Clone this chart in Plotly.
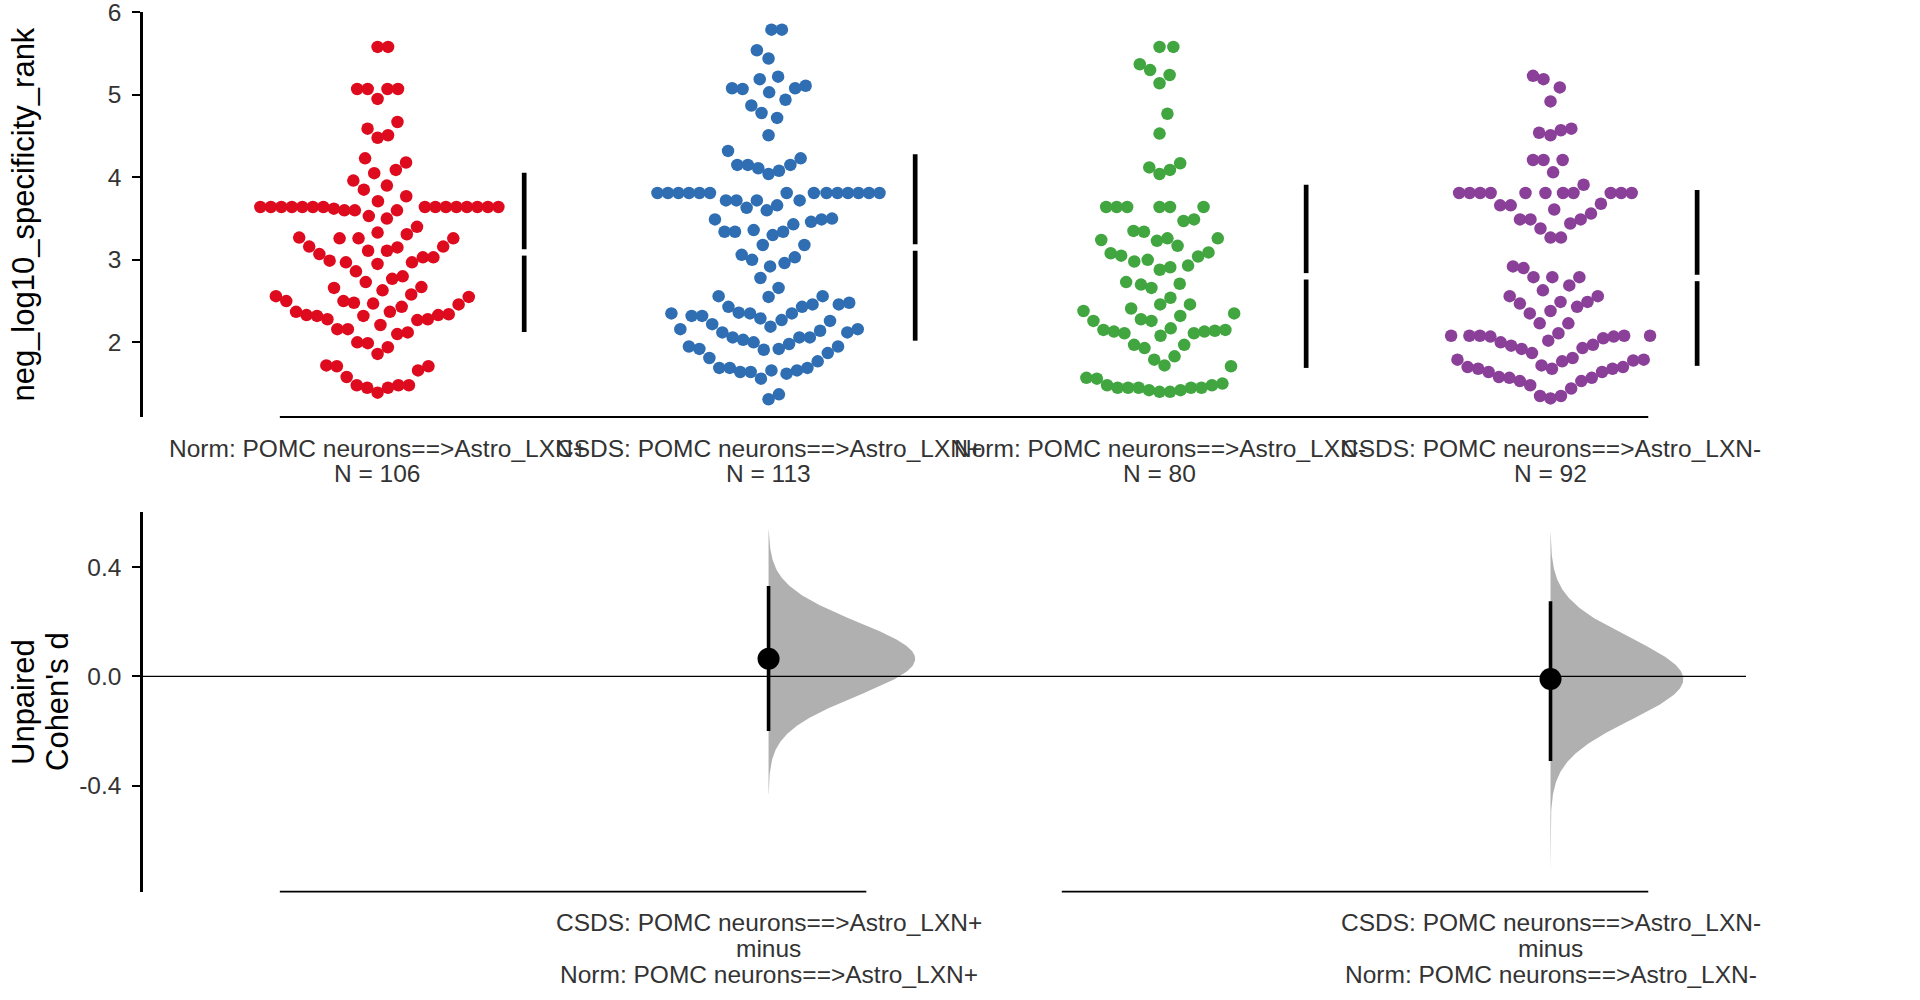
import numpy as np
import plotly.graph_objects as go

# The page's default 8 px body margin is removed by a post script,
# so the figure fills the 1920x1000 window exactly.
W, H = 1920, 1000


def fx(px):  # screen x -> paper
    return px / W


def fy(py):  # screen y -> paper
    return 1 - py / H


# ---------------- data ----------------
group_names = [
    "Norm: POMC neurons==>Astro_LXN+",
    "CSDS: POMC neurons==>Astro_LXN+",
    "Norm: POMC neurons==>Astro_LXN-",
    "CSDS: POMC neurons==>Astro_LXN-",
]
group_n_labels = ["N = 106", "N = 113", "N = 80", "N = 92"]
group_colors = ["#de0a1e", "#2f6eb2", "#41a540", "#8a3f99"]

norm_lxn_pos = [
    5.58, 5.58, 5.07, 5.07, 5.07, 5.07, 4.95, 4.67, 4.59, 4.51, 4.48, 4.23, 4.18, 4.09, 4.05,
    3.96, 3.90, 3.85, 3.77, 3.71,
    3.64, 3.64, 3.64, 3.64, 3.64, 3.64, 3.64, 3.64, 3.64, 3.64, 3.64, 3.64, 3.64, 3.64, 3.64,
    3.62, 3.60, 3.60, 3.60, 3.53, 3.50, 3.40, 3.33, 3.31, 3.27, 3.26, 3.26, 3.26,
    3.16, 3.16, 3.15, 3.11, 3.11, 3.07, 3.03, 3.03, 2.99, 2.97, 2.97, 2.95, 2.86,
    2.80, 2.77, 2.73, 2.67, 2.66, 2.63, 2.58, 2.56, 2.55, 2.50, 2.50, 2.48, 2.47, 2.46, 2.43,
    2.37, 2.37, 2.34, 2.33, 2.33, 2.32, 2.32, 2.28, 2.28, 2.27, 2.21, 2.16, 2.16, 2.12, 2.10,
    2.00, 1.99, 1.94, 1.86, 1.72, 1.71, 1.71, 1.66, 1.58, 1.48, 1.48, 1.48, 1.45, 1.45, 1.39,
]
csds_lxn_pos = [
    5.79, 5.79, 5.54, 5.44, 5.22, 5.19, 5.11, 5.08, 5.08, 5.07, 5.03, 4.94, 4.87, 4.78, 4.72,
    4.51, 4.32, 4.23, 4.15, 4.15, 4.15, 4.11, 4.08, 4.04,
    3.81, 3.81, 3.81, 3.81, 3.81, 3.81, 3.81, 3.81, 3.81, 3.81, 3.81, 3.81, 3.81, 3.81,
    3.72, 3.72, 3.72, 3.72, 3.66, 3.63, 3.60, 3.50, 3.49, 3.49, 3.46, 3.43, 3.36,
    3.34, 3.34, 3.34, 3.30, 3.18, 3.18, 3.06, 3.03, 3.00, 2.96, 2.92, 2.78, 2.66,
    2.56, 2.56, 2.55, 2.48, 2.46, 2.46, 2.43, 2.43, 2.36, 2.35, 2.35, 2.35, 2.32, 2.32,
    2.29, 2.27, 2.26, 2.22, 2.19, 2.16, 2.16, 2.14, 2.12, 2.12, 2.06, 2.06, 2.06,
    2.03, 2.00, 1.98, 1.95, 1.95, 1.92, 1.92, 1.91, 1.87, 1.81, 1.77,
    1.69, 1.69, 1.69, 1.66, 1.66, 1.64, 1.64, 1.62, 1.56, 1.37, 1.31,
]
norm_lxn_neg = [
    5.58, 5.58, 5.37, 5.30, 5.24, 5.14, 4.77, 4.53, 4.17, 4.12, 4.09, 4.04,
    3.64, 3.64, 3.64, 3.64, 3.64, 3.64, 3.49, 3.47, 3.35, 3.34, 3.26, 3.26, 3.24, 3.23, 3.17,
    3.09, 3.08, 3.05, 3.04, 3.00, 2.98, 2.93, 2.91, 2.88, 2.73, 2.71, 2.70, 2.66, 2.54,
    2.46, 2.46, 2.41, 2.38, 2.35, 2.32, 2.28, 2.26, 2.26,
    2.17, 2.15, 2.15, 2.14, 2.13, 2.13, 2.11, 2.11, 2.08, 1.97, 1.97, 1.93, 1.83, 1.79,
    1.72, 1.71, 1.57, 1.56, 1.50, 1.48, 1.48, 1.45, 1.45, 1.45, 1.45, 1.45, 1.42, 1.42, 1.40, 1.40,
]
csds_lxn_neg = [
    5.23, 5.19, 5.09, 4.92, 4.59, 4.57, 4.54, 4.51, 4.21, 4.21, 4.21, 4.06, 3.91,
    3.81, 3.81, 3.81, 3.81, 3.81, 3.81, 3.81, 3.81, 3.81, 3.81, 3.81,
    3.68, 3.66, 3.66, 3.61, 3.56, 3.49, 3.49, 3.49, 3.44, 3.38, 3.27, 3.27,
    2.92, 2.90, 2.79, 2.79, 2.79, 2.69, 2.63, 2.56, 2.56, 2.49, 2.49, 2.47, 2.43, 2.38, 2.35,
    2.23, 2.23, 2.11, 2.08, 2.08, 2.08, 2.08, 2.08, 2.07, 2.07, 2.05, 2.02, 2.00,
    1.97, 1.96, 1.93, 1.92, 1.87, 1.81, 1.79, 1.79, 1.78, 1.77, 1.72, 1.70, 1.70,
    1.68, 1.68, 1.68, 1.64, 1.64, 1.58, 1.57, 1.57, 1.53, 1.53, 1.48, 1.44, 1.35, 1.35, 1.32,
]
group_values = [norm_lxn_pos, csds_lxn_pos, norm_lxn_neg, csds_lxn_neg]

# mean +/- sd (gapped lines)
group_means = [3.09, 3.15, 2.80, 2.78]
group_sds = [0.965, 1.13, 1.11, 1.065]

# effect sizes (Cohen's d)
contrast_pos = [1, 3]
contrast_test = ["CSDS: POMC neurons==>Astro_LXN+", "CSDS: POMC neurons==>Astro_LXN-"]
contrast_ctrl = ["Norm: POMC neurons==>Astro_LXN+", "Norm: POMC neurons==>Astro_LXN-"]
effect_d = [0.064, -0.01]
ci_low = [-0.20, -0.31]
ci_high = [0.33, 0.275]
boot_min = [-0.43, -0.72]
boot_max = [0.54, 0.525]

# ---------------- layout geometry (screen px) ----------------
X_RANGE = [-0.6, 3.5]
X_DOM = [fx(143), fx(1746)]
Y1_RANGE = [1.095, 6.0]
Y1_DOM = [fy(417), fy(12.3)]
Y2_RANGE = [-0.788, 0.60]
Y2_DOM = [fy(891.7), fy(512.3)]

px_per_x = (X_DOM[1] - X_DOM[0]) * W / (X_RANGE[1] - X_RANGE[0])
px_per_y1 = (Y1_DOM[1] - Y1_DOM[0]) * H / (Y1_RANGE[1] - Y1_RANGE[0])

MARKER = 12.5
SWARM_SX = 10.5   # horizontal exclusion (px)
SWARM_SY = 30.0   # vertical exclusion (px)
FONT = "Liberation Sans, Arial, sans-serif"
TICK_COLOR = "#333333"


def swarm_offsets(values, px_per_unit, sx, sy):
    ys = np.asarray(values, dtype=float) * px_per_unit
    order = np.argsort(ys, kind="mergesort")
    px_l, py_l = [], []
    offs = np.zeros(len(ys))
    for idx in order:
        y = ys[idx]
        neigh = [(a, b) for a, b in zip(px_l, py_l) if abs(b - y) < sy]
        cands = [0.0]
        for a, b in neigh:
            dx = sx * np.sqrt(max(0.0, 1 - ((b - y) / sy) ** 2))
            cands += [a + dx, a - dx]
        cands.sort(key=abs)
        for c in cands:
            if all(((c - a) / sx) ** 2 + ((y - b) / sy) ** 2 >= 1 - 1e-6 for a, b in neigh):
                offs[idx] = c
                break
        px_l.append(offs[idx])
        py_l.append(y)
    return offs / px_per_x


fig = go.Figure()

# ---- top panel: swarms ----
for i, vals in enumerate(group_values):
    off = swarm_offsets(vals, px_per_y1, SWARM_SX, SWARM_SY)
    fig.add_trace(go.Scatter(
        x=i + off, y=vals, mode="markers",
        marker=dict(size=MARKER, color=group_colors[i], line=dict(width=0)),
        xaxis="x", yaxis="y", showlegend=False, hoverinfo="y",
    ))

# gapped mean +/- sd lines
gap = 3.2 / px_per_y1
for i in range(4):
    m, s = group_means[i], group_sds[i]
    xx = i + 0.375
    fig.add_trace(go.Scatter(
        x=[xx, xx, None, xx, xx],
        y=[m + gap, m + s, None, m - gap, m - s],
        mode="lines", line=dict(color="black", width=4.7),
        xaxis="x", yaxis="y", showlegend=False, hoverinfo="skip",
    ))

# ---- bottom panel: bootstrap half-violins ----
se = [(h - l) / 3.92 for l, h in zip(ci_low, ci_high)]
VIOLIN_W = 0.375
for k, p in enumerate(contrast_pos):
    yy = np.linspace(boot_min[k], boot_max[k], 300)
    dens = np.exp(-0.5 * ((yy - effect_d[k]) / se[k]) ** 2) * (se[0] / se[k])
    hw = VIOLIN_W * dens
    xs = np.concatenate([p + hw, [p, p]])
    ys = np.concatenate([yy, [boot_max[k], boot_min[k]]])
    fig.add_trace(go.Scatter(
        x=xs, y=ys, mode="lines", fill="toself", fillcolor="#b0b0b0",
        line=dict(width=0, color="#b0b0b0"),
        xaxis="x2", yaxis="y2", showlegend=False, hoverinfo="skip",
    ))

for k, p in enumerate(contrast_pos):
    fig.add_trace(go.Scatter(
        x=[p, p], y=[ci_low[k], ci_high[k]], mode="lines",
        line=dict(color="black", width=3.6),
        xaxis="x2", yaxis="y2", showlegend=False, hoverinfo="skip",
    ))
fig.add_trace(go.Scatter(
    x=contrast_pos, y=effect_d, mode="markers",
    marker=dict(size=22, color="black"),
    xaxis="x2", yaxis="y2", showlegend=False, hoverinfo="y",
))

# ---- shapes: spines / zero line ----
shapes = [
    dict(type="line", xref="x", yref="y domain", x0=-0.25, x1=3.25, y0=0, y1=0,
         line=dict(color="black", width=1.8)),
    dict(type="line", xref="x2", yref="y2 domain", x0=-0.25, x1=1.25, y0=0, y1=0,
         line=dict(color="black", width=1.8)),
    dict(type="line", xref="x2", yref="y2 domain", x0=1.75, x1=3.25, y0=0, y1=0,
         line=dict(color="black", width=1.8)),
    dict(type="line", xref="x2 domain", yref="y2", x0=0, x1=1, y0=0, y1=0,
         line=dict(color="black", width=1.2), layer="above"),
]

# ---- annotations: category labels and axis titles ----
ann = []
lab_font = dict(size=24.5, color=TICK_COLOR, family=FONT)
for i in range(4):
    ann.append(dict(x=i, xref="x", y=0, yref="y domain", yanchor="middle", yshift=-31,
                    text=group_names[i], showarrow=False, font=lab_font))
    ann.append(dict(x=i, xref="x", y=0, yref="y domain", yanchor="middle", yshift=-56,
                    text=group_n_labels[i], showarrow=False, font=lab_font))
for k, p in enumerate(contrast_pos):
    for txt, sh in [(contrast_test[k], -31), ("minus", -57), (contrast_ctrl[k], -83)]:
        ann.append(dict(x=p, xref="x2", y=0, yref="y2 domain", yanchor="middle", yshift=sh,
                        text=txt, showarrow=False, font=lab_font))

title_font = dict(size=31, color="black", family=FONT)
ann.append(dict(x=fx(24), xref="paper", y=fy(214.6), yref="paper",
                xanchor="center", yanchor="middle", textangle=-90,
                text="neg_log10_specificity_rank", showarrow=False, font=title_font))
ann.append(dict(x=fx(23), xref="paper", y=fy(702), yref="paper",
                xanchor="center", yanchor="middle", textangle=-90,
                text="Unpaired", showarrow=False, font=title_font))
ann.append(dict(x=fx(57), xref="paper", y=fy(702), yref="paper",
                xanchor="center", yanchor="middle", textangle=-90,
                text="Cohen's d", showarrow=False, font=title_font))

yaxis_common = dict(
    showline=True, linecolor="black", linewidth=2.5, ticks="outside", ticklen=8,
    tickwidth=2.2, tickcolor="black", showgrid=False, zeroline=False,
    tickfont=dict(size=24.5, color=TICK_COLOR, family=FONT), ticklabelstandoff=6,
    ticklabeloverflow="allow", automargin=False,
)

fig.update_layout(
    width=W, height=H,
    margin=dict(l=0, r=0, t=0, b=0, autoexpand=False),
    paper_bgcolor="white", plot_bgcolor="white",
    showlegend=False,
    xaxis=dict(domain=X_DOM, range=X_RANGE, visible=False, automargin=False),
    xaxis2=dict(domain=X_DOM, range=X_RANGE, visible=False, anchor="y2", automargin=False),
    yaxis=dict(domain=Y1_DOM, range=Y1_RANGE, tickvals=[2, 3, 4, 5, 6],
               ticktext=["2", "3", "4", "5", "6"], anchor="x", **yaxis_common),
    yaxis2=dict(domain=Y2_DOM, range=Y2_RANGE, tickvals=[-0.4, 0.0, 0.4],
                ticktext=["-0.4", "0.0", "0.4"], anchor="x2", **yaxis_common),
    shapes=shapes,
    annotations=ann,
)

fig.write_html(
    "out.html",
    config={"displayModeBar": False},
    post_script="document.body.style.margin='0';document.body.style.overflow='hidden';",
)
